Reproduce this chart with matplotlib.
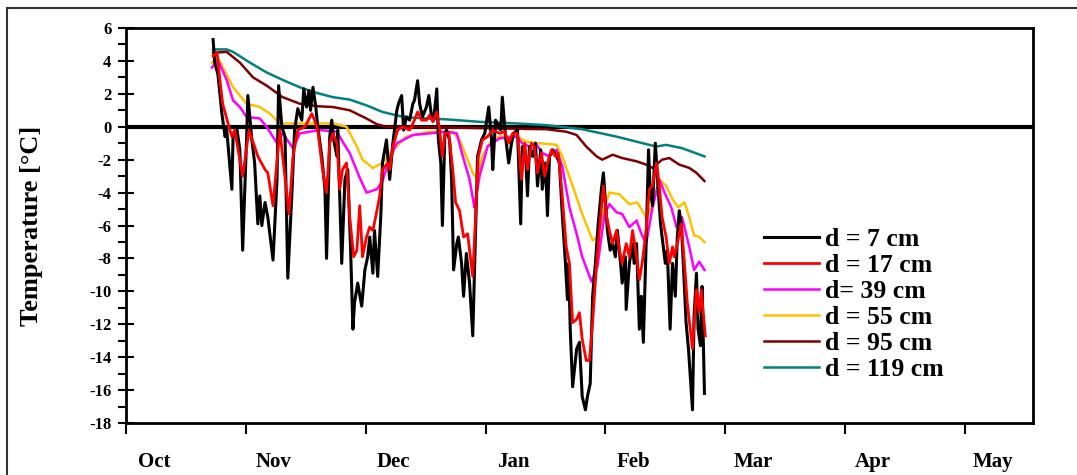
import numpy as np
import matplotlib
matplotlib.use('Agg')
import matplotlib.pyplot as plt
from matplotlib.patches import Rectangle

plt.rcParams['font.family'] = 'Liberation Serif'
plt.rcParams['font.weight'] = 'bold'
plt.rcParams['axes.unicode_minus'] = False

# day numbers counted from 1 Oct
months = ['Oct', 'Nov', 'Dec', 'Jan', 'Feb', 'Mar', 'Apr', 'May']

# d = 7 cm
day_7 = [21.8, 22.2, 23.0, 24.0, 24.8, 25.2, 25.5, 26.5, 26.8, 27.8, 28.5, 29.2, 30.2, 30.5, 31.5,
         32.2, 33.0, 33.5, 34.0, 34.8, 35.5, 36.8, 37.8, 38.2, 39.0, 39.8, 40.5, 41.5, 42.2, 43.0,
         44.0, 44.5, 45.2, 45.8, 46.2, 46.8, 47.5, 48.0, 49.0, 49.8, 50.2, 51.0, 51.5, 52.0, 52.8,
         53.0, 54.0, 54.8, 55.5, 56.2, 56.8, 57.2, 58.0, 59.0, 59.8, 60.5, 61.0, 61.8, 62.2, 63.0,
         63.8, 64.2, 65.2, 66.0, 66.8, 67.8, 68.2, 69.0, 69.5, 70.2, 71.0, 71.8, 72.2, 73.0, 73.5,
         74.2, 75.2, 75.8, 76.5, 77.0, 77.8, 78.2, 78.8, 79.2, 79.8, 80.2, 81.0, 81.5, 82.0, 82.8,
         83.2, 84.0, 84.5, 85.2, 86.0, 86.8, 87.5, 88.0, 89.0, 89.8, 90.8, 91.5, 91.8, 92.5, 93.0,
         93.8, 94.2, 95.0, 95.8, 96.5, 97.0, 98.0, 98.8, 99.2, 100.0, 100.5, 101.0, 101.8, 102.5, 103.0,
         103.8, 104.2, 105.0, 105.5, 106.0, 106.8, 107.8, 108.5, 109.2, 110.0, 110.5, 110.8, 111.2, 111.8, 112.8,
         113.5, 114.2, 115.0, 115.5, 116.2, 116.8, 117.5, 118.2, 119.0, 119.5, 120.0, 120.5, 121.2, 121.8, 122.5,
         123.0, 123.8, 124.2, 125.0, 125.2, 126.0, 126.8, 127.2, 127.8, 128.5, 129.0, 129.5, 130.2, 130.8, 131.2,
         131.8, 132.5, 133.0, 133.8, 134.2, 135.0, 135.5, 136.2, 136.8, 137.5, 138.0, 138.5, 139.0, 139.5, 140.2,
         140.8, 141.2, 141.8, 142.2, 142.8, 143.2, 143.8, 144.2, 144.8]
t_7 = [5.3, 3.9, 3.2, 0.8, -0.6, -0.2, -1.0, -3.8, -0.6, -0.2, -1.4, -7.5, -0.6, 1.9, -0.8,
       -2.2, -5.9, -4.2, -6.0, -4.6, -5.5, -8.1, -3.2, 2.5, 0.0, -0.6, -9.2, -4.2, -0.2, 1.1,
       0.4, 2.3, 1.2, 2.2, 1.0, 2.4, 1.2, 0.0, -1.8, -3.8, -8.0, -0.6, 0.4, -0.8, -1.8,
       -0.2, -8.3, -3.2, -2.6, -7.3, -12.3, -10.7, -9.5, -10.9, -8.7, -7.9, -6.7, -8.9, -6.3, -9.1,
       -5.3, -2.2, -0.8, -3.2, -1.0, 1.0, 1.4, 1.9, -0.2, 0.6, 0.4, 1.4, 1.6, 2.8, 1.4,
       0.6, 1.2, 1.9, 0.6, 0.4, 2.3, -0.8, -2.2, -6.0, -0.6, -0.2, -0.8, -3.2, -8.7, -7.1,
       -6.7, -8.3, -10.3, -7.7, -9.5, -12.7, -6.3, -1.8, -0.8, -0.4, 1.2, -0.8, -2.6, 0.4, 0.2,
       -0.2, 1.8, -0.6, -2.2, -1.0, -0.4, -0.2, -5.9, -1.2, -1.6, -4.2, -1.2, -1.8, -1.0, -3.6,
       -1.4, -3.8, -2.2, -5.4, -1.8, -1.4, -1.8, -2.2, -5.3, -8.3, -10.5, -8.3, -12.3, -15.8, -13.5,
       -13.1, -16.4, -17.2, -16.4, -15.6, -10.3, -8.3, -5.9, -3.8, -2.8, -4.6, -6.3, -7.5, -7.1, -7.9,
       -6.3, -8.3, -9.5, -7.9, -11.1, -8.3, -7.1, -8.3, -7.1, -12.3, -10.3, -13.1, -7.1, -1.4, -3.8,
       -4.8, -1.0, -3.0, -5.9, -6.7, -8.3, -7.5, -12.3, -8.3, -10.3, -6.7, -5.1, -5.9, -8.3, -11.9,
       -13.5, -15.0, -17.2, -11.5, -8.9, -12.3, -13.3, -9.7, -16.2]

# d = 17 cm
day_17 = [21.8, 22.8, 23.5, 24.2, 25.2, 26.0, 26.5, 27.2, 29.2, 30.8, 33.0, 34.8, 35.5, 36.8, 38.5,
          40.8, 41.8, 43.0, 44.8, 46.5, 47.2, 48.0, 49.2, 50.2, 51.0, 51.8, 52.8, 53.5, 54.2, 55.2,
          56.0, 57.0, 57.8, 58.5, 59.2, 60.2, 61.0, 61.8, 62.8, 63.5, 64.2, 65.5, 66.0, 66.8, 68.0,
          69.2, 71.0, 72.2, 73.0, 74.0, 75.2, 76.0, 76.8, 77.8, 78.5, 79.2, 79.8, 80.8, 81.8, 82.5,
          83.5, 84.5, 85.5, 86.2, 86.8, 87.5, 88.2, 89.2, 90.5, 91.8, 93.5, 94.8, 95.8, 96.8, 98.0,
          99.0, 99.8, 100.5, 101.5, 102.2, 103.0, 104.0, 104.8, 105.5, 106.5, 107.5, 108.2, 109.2, 110.2, 111.0,
          111.8, 112.8, 113.5, 114.2, 115.2, 116.0, 116.8, 117.8, 118.5, 119.5, 120.2, 121.0, 121.8, 122.8, 123.5,
          124.2, 125.2, 126.0, 126.8, 127.8, 128.5, 129.2, 130.2, 131.0, 131.8, 132.8, 133.5, 134.2, 135.2, 136.0,
          136.8, 137.2, 138.0, 139.0, 139.8, 140.5, 141.8, 142.8, 143.5, 144.0, 145.0]
t_17 = [4.3, 4.5, 2.85, 1.4, 0.5, -0.2, -0.6, -0.2, -3.0, -0.2, -1.8, -2.6, -2.8, -4.8, -0.2,
        -5.3, -1.8, -0.2, 0.0, 0.8, 0.4, -0.2, -2.6, -4.0, -1.0, -0.4, -1.0, -3.8, -2.6, -2.2,
        -5.5, -7.9, -7.5, -4.8, -7.9, -6.7, -6.1, -6.3, -5.1, -4.2, -2.6, -2.2, -2.6, -1.2, -0.2,
        0.0, -0.2, 0.4, 0.9, 0.4, 0.4, 0.7, 0.3, 0.9, -0.2, -1.8, -0.4, -0.4, -2.6, -4.6,
        -5.1, -6.7, -6.5, -7.9, -9.1, -5.5, -1.8, -0.8, -0.6, -0.2, -0.4, -0.3, -1.0, -0.4, -0.4,
        -3.2, -1.0, -2.6, -1.0, -1.2, -2.8, -1.6, -3.0, -2.2, -1.4, -1.8, -1.6, -4.2, -7.3, -8.3,
        -11.9, -11.7, -11.3, -12.9, -14.2, -14.2, -11.9, -8.3, -6.3, -3.6, -5.3, -6.3, -7.1, -6.3, -7.5,
        -8.3, -7.1, -7.9, -6.3, -7.9, -9.3, -8.3, -6.3, -3.8, -3.6, -2.2, -3.6, -5.5, -6.7, -8.3,
        -7.3, -7.9, -7.1, -5.9, -8.3, -10.7, -13.5, -9.9, -11.3, -9.9, -12.7]

# d = 39 cm
day_39 = [21.5, 23.0, 25.2, 26.8, 28.5, 30.2, 33.5, 35.2, 37.8, 39.2, 41.8, 43.5, 48.5, 52.8, 54.2,
          56.0, 58.5, 60.2, 62.8, 64.2, 66.0, 67.8, 71.8, 80.2, 82.8, 84.2, 86.0, 87.2, 88.5, 90.5,
          93.5, 97.8, 99.2, 101.0, 102.8, 104.2, 106.0, 107.8, 109.2, 111.0, 112.8, 114.2, 116.5, 118.0, 119.8,
          121.0, 122.8, 124.2, 126.0, 127.8, 129.0, 130.2, 131.8, 133.5, 134.8, 136.5, 137.8, 139.2, 141.0, 142.2,
          143.5, 144.8]
t_39 = [3.6, 4.05, 2.85, 1.6, 1.2, 0.6, 0.5, 0.0, -1.0, -0.4, -1.3, -0.4, -0.2, -0.3, -0.9,
        -1.6, -3.1, -4.0, -3.8, -3.3, -1.9, -1.0, -0.5, -0.3, -0.4, -1.7, -3.2, -4.9, -3.0, -1.2,
        -0.7, -0.6, -1.0, -1.2, -1.1, -1.6, -1.8, -1.4, -2.4, -4.9, -6.5, -7.9, -9.4, -8.5, -5.3,
        -4.7, -5.2, -5.3, -6.1, -5.7, -6.5, -7.1, -4.9, -3.2, -4.0, -4.9, -6.1, -5.5, -7.3, -8.7,
        -8.2, -8.7]

# d = 55 cm
day_55 = [21.5, 23.0, 26.8, 30.2, 33.5, 36.0, 38.5, 41.8, 47.8, 51.8, 55.2, 57.8, 59.2, 61.8, 64.2,
          66.8, 70.2, 76.0, 81.8, 83.5, 85.2, 86.8, 88.0, 89.2, 91.5, 93.5, 97.8, 100.2, 103.5, 107.8,
          109.2, 111.8, 114.2, 116.8, 118.0, 119.8, 121.0, 123.5, 126.0, 128.0, 130.2, 131.5, 133.5, 135.2, 136.8,
          138.2, 139.8, 141.0, 142.2, 143.5, 144.8]
t_55 = [3.9, 4.2, 2.4, 1.4, 1.2, 0.8, 0.2, 0.2, 0.2, 0.2, 0.0, -1.2, -2.0, -2.5, -2.2,
        -1.4, -0.6, -0.3, -0.3, -0.8, -1.8, -2.8, -3.2, -1.8, -0.8, -0.6, -0.6, -0.9, -1.0, -1.1,
        -1.8, -3.6, -5.3, -6.9, -6.7, -4.9, -4.0, -4.1, -4.7, -4.6, -5.5, -4.9, -3.2, -3.6, -4.4,
        -4.9, -4.6, -5.5, -6.6, -6.7, -7.0]

# d = 95 cm
day_95 = [21.8, 25.2, 28.5, 31.8, 35.2, 39.2, 43.5, 47.8, 51.8, 56.0, 60.2, 62.8, 65.2, 81.0, 105.2,
          110.2, 112.8, 115.2, 117.8, 119.2, 121.8, 124.2, 127.8, 130.2, 131.8, 134.2, 136.0, 138.5, 141.0, 142.8,
          144.8]
t_95 = [4.5, 4.55, 3.9, 3.0, 2.5, 1.8, 1.4, 1.25, 1.2, 1.0, 0.5, 0.15, 0.0, -0.05, -0.15,
        -0.3, -0.5, -1.2, -1.8, -2.0, -1.7, -1.9, -2.1, -2.3, -2.5, -2.0, -1.9, -2.3, -2.5, -2.8,
        -3.3]

# d = 119 cm
day_119 = [21.8, 25.2, 26.8, 31.0, 35.2, 39.2, 43.5, 47.8, 51.8, 56.0, 60.2, 64.2, 68.5, 71.8, 80.2,
           88.5, 97.8, 105.2, 114.2, 122.8, 131.0, 132.8, 135.2, 139.2, 144.8]
t_119 = [4.7, 4.7, 4.55, 3.9, 3.3, 2.85, 2.4, 2.05, 1.8, 1.65, 1.3, 0.9, 0.65, 0.55, 0.45,
         0.3, 0.2, 0.1, -0.15, -0.6, -1.1, -1.2, -1.1, -1.3, -1.8]

fig = plt.figure(figsize=(10.77, 4.75), dpi=100)
ax = fig.add_axes([0.117, 0.1095, 0.842, 0.8315])

ax.axhline(0, color='black', lw=3, zorder=1)
ax.plot(day_7, t_7, color='black', lw=2.2, label='d = 7 cm', zorder=7)
ax.plot(day_17, t_17, color='#FF0000', lw=2.0, label='d = 17 cm', zorder=8)
ax.plot(day_39, t_39, color='#FF00FF', lw=1.8, label='d= 39 cm', zorder=6)
ax.plot(day_55, t_55, color='#FFC000', lw=1.8, label='d = 55 cm', zorder=5)
ax.plot(day_95, t_95, color='#800000', lw=1.8, label='d = 95 cm', zorder=4)
ax.plot(day_119, t_119, color='#008080', lw=1.8, label='d = 119 cm', zorder=3)

ax.set_xlim(0, 227)
ax.set_ylim(-18, 6)

# month boundary ticks, names placed a week after each boundary
ax.set_xticks(np.arange(0, 211, 30))
ax.set_xticklabels([])
ax.set_xticks(np.arange(0, 211, 30) + 7, minor=True)
ax.set_xticklabels(months, minor=True, fontsize=15, fontweight='bold')
ax.tick_params(axis='x', which='major', direction='out', length=8, width=1.5)
ax.tick_params(axis='x', which='minor', length=0, pad=21)

ax.set_yticks(np.arange(-18, 7, 2))
ax.set_yticks(np.arange(-17, 6, 2), minor=True)
ax.tick_params(axis='y', which='major', direction='inout', length=11, width=1.5, labelsize=12, pad=5)
ax.tick_params(axis='y', which='minor', direction='out', length=6, width=1.5)
for lab in ax.get_yticklabels():
    lab.set_fontweight('bold')

for s in ax.spines.values():
    s.set_linewidth(2)

ax.set_ylabel('Temperature [°C]', fontsize=19, fontweight='bold')
ax.yaxis.set_label_coords(-0.091, 0.5)

ax.legend(loc='upper left', bbox_to_anchor=(0.689, 0.527), frameon=False,
          prop={'family': 'Liberation Serif', 'weight': 'bold', 'size': 18.5},
          handlelength=2.15, handletextpad=0.25, labelspacing=0.12, borderpad=0)

# outer frame around the whole picture
fig.patches.append(Rectangle((7 / 1077, -0.05), 1.2, 1.05 - 8 / 475,
                             transform=fig.transFigure, fill=False, lw=1.5, edgecolor='#333333'))

plt.savefig('out.png', dpi=100)
plt.close()
